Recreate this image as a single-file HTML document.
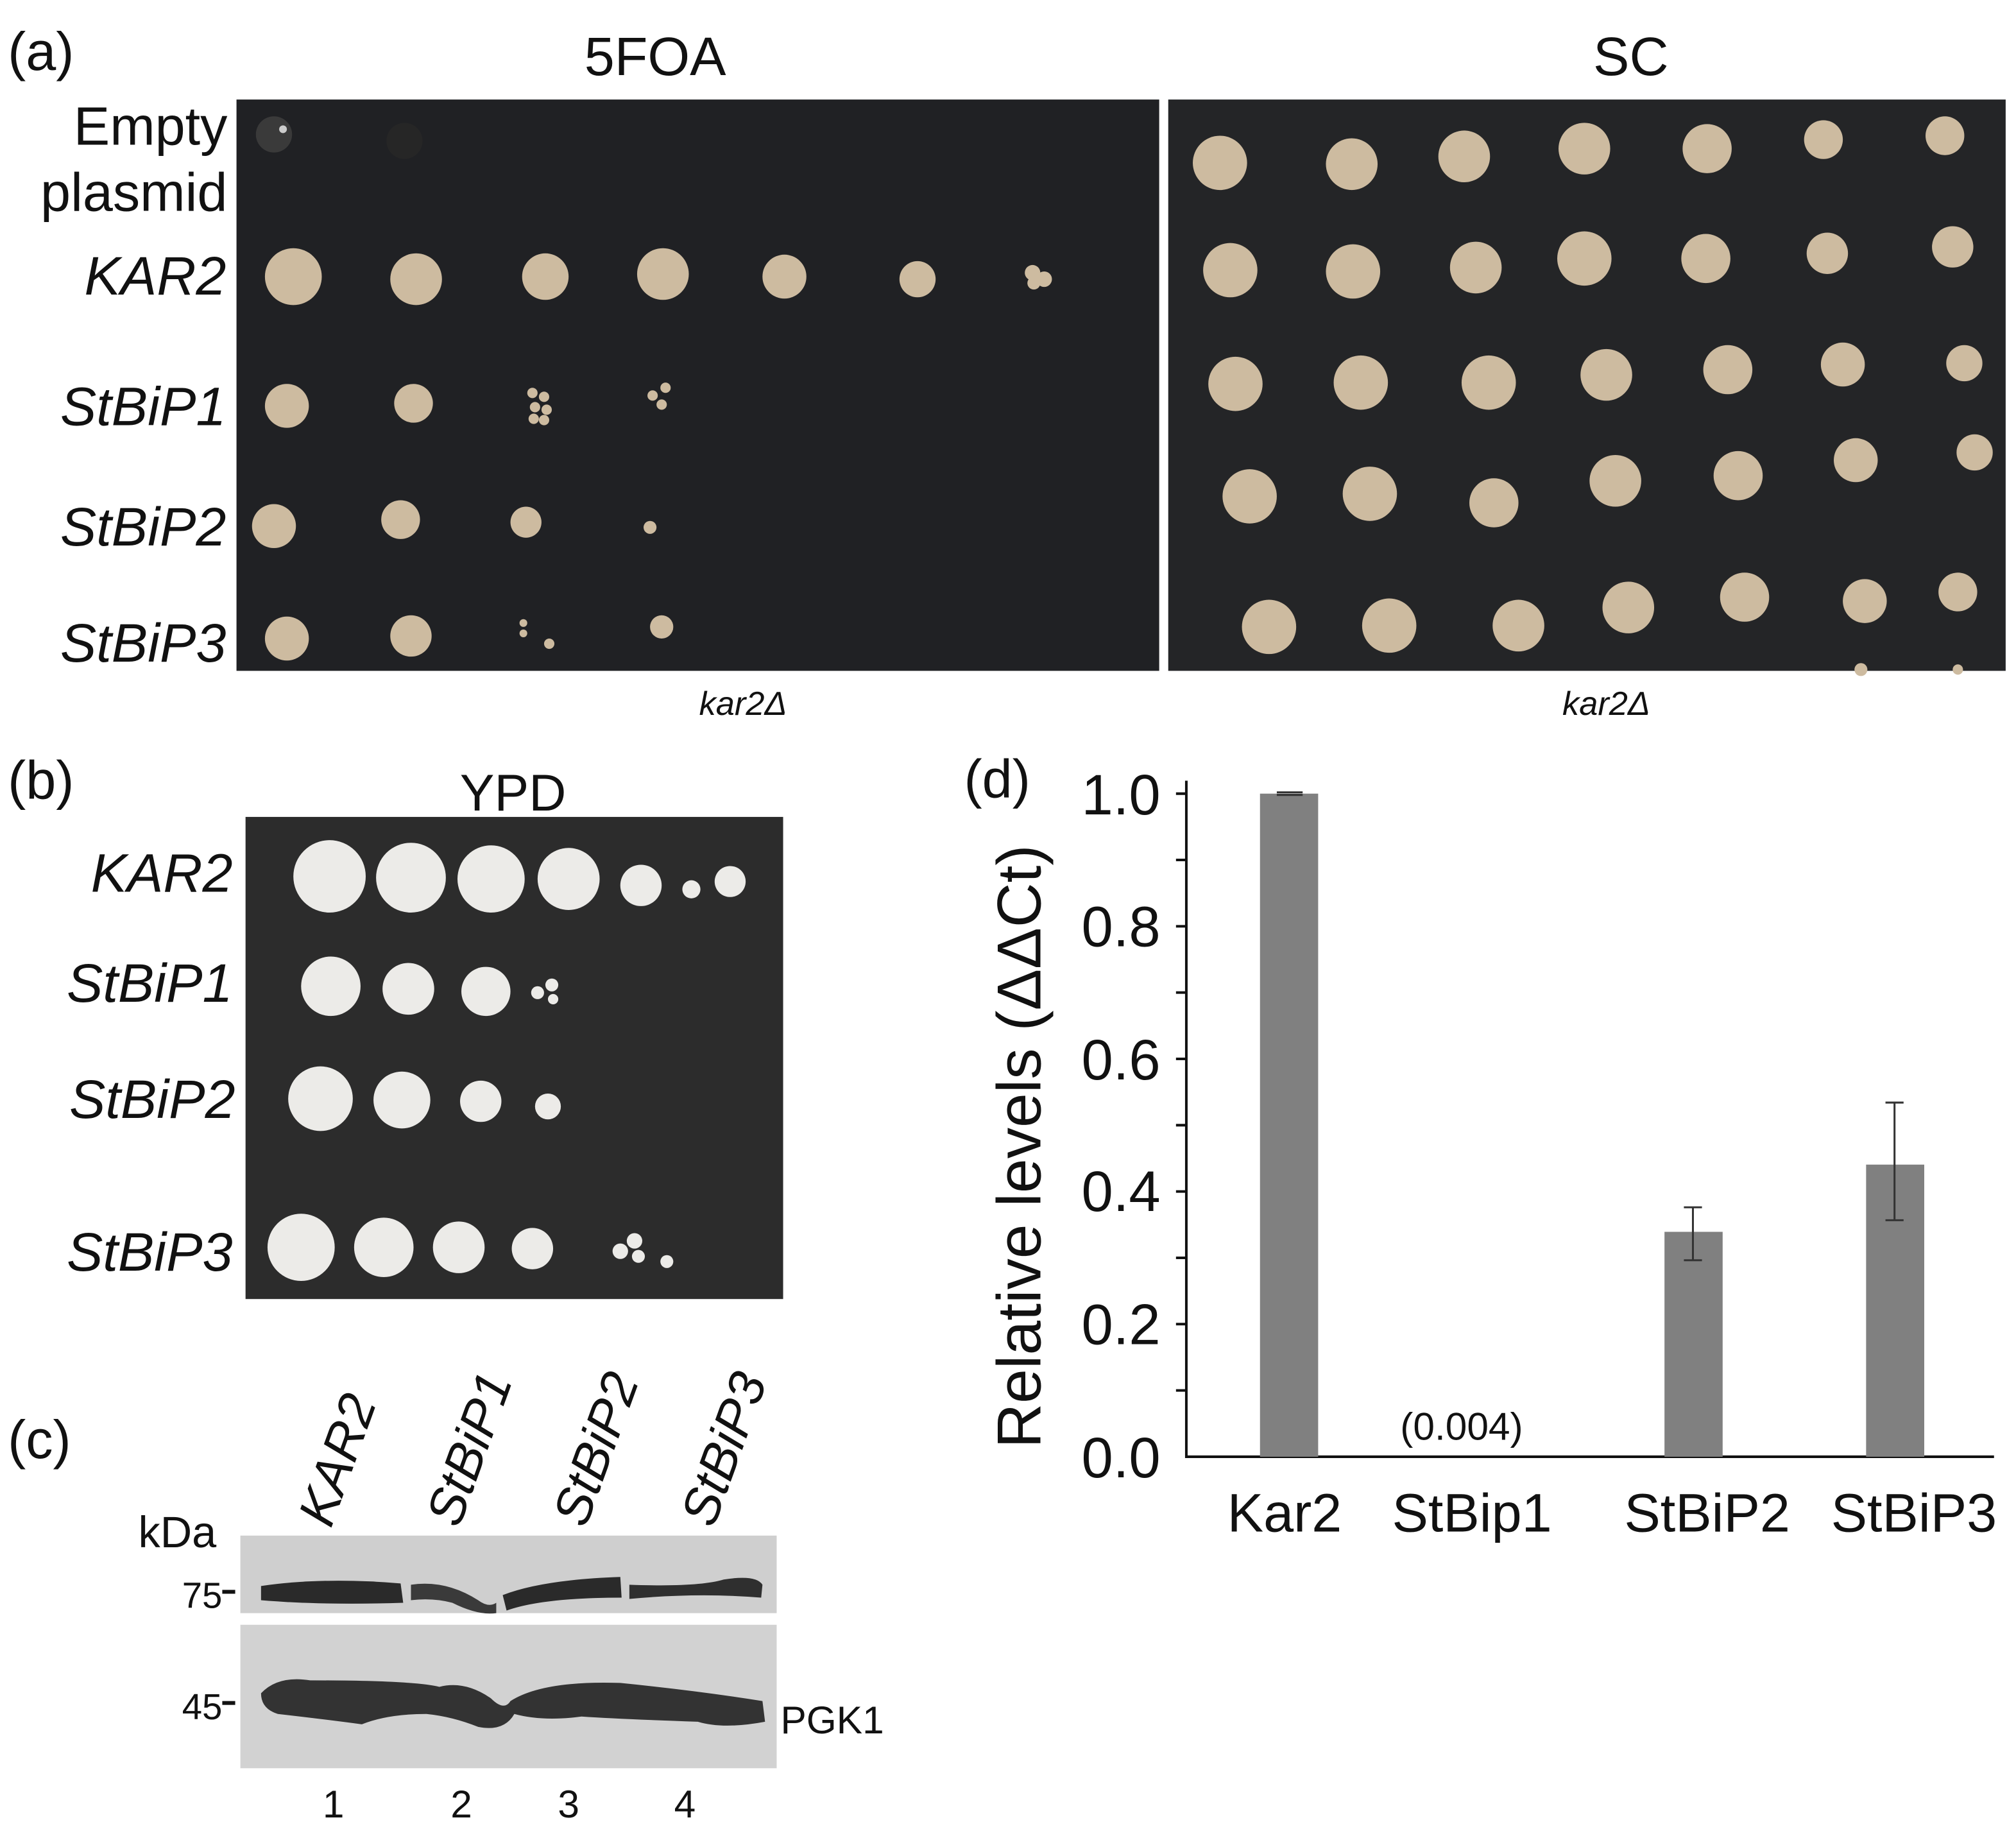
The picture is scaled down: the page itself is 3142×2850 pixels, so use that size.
<!DOCTYPE html>
<html><head><meta charset="utf-8"><style>
html,body{margin:0;padding:0;background:#fff;}
svg{display:block;}
text{font-family:"Liberation Sans",sans-serif;fill:#111;}
.it{font-style:italic;}
</style></head><body>
<svg width="3142" height="2850" viewBox="0 0 1560 1415" preserveAspectRatio="none" xmlns="http://www.w3.org/2000/svg">
<rect width="1560" height="1415" fill="#fff"/>
<!-- (a) -->
<text x="6" y="54" font-size="42">(a)</text>
<text x="507" y="58" font-size="42" text-anchor="middle">5FOA</text>
<text x="1262" y="58" font-size="42" text-anchor="middle">SC</text>
<rect x="183" y="77" width="714" height="442" fill="#202124"/>
<rect x="904" y="77" width="648" height="442" fill="#242527"/>
<circle cx="212" cy="104" r="14" fill="#3a3a3a"/><circle cx="219" cy="100" r="3" fill="#ccc"/>
<circle cx="313" cy="109" r="14" fill="#262626"/>
<g font-size="42" text-anchor="end">
<text x="176" y="112">Empty</text>
<text x="176" y="163">plasmid</text>
<text x="175" y="228" class="it">KAR2</text>
<text x="175" y="329" class="it">StBiP1</text>
<text x="175" y="422" class="it">StBiP2</text>
<text x="175" y="512" class="it">StBiP3</text>
</g>
<g fill="#cdbba0">
<circle cx="227" cy="214" r="22"/><circle cx="322" cy="216" r="20"/><circle cx="422" cy="214" r="18"/><circle cx="513" cy="212" r="20"/><circle cx="607" cy="214" r="17"/><circle cx="710" cy="216" r="14"/><circle cx="799" cy="211" r="6"/><circle cx="808" cy="216" r="6"/><circle cx="800" cy="219" r="5"/>
<circle cx="222" cy="314" r="17"/><circle cx="320" cy="312" r="15"/>
<circle cx="412" cy="304" r="4"/><circle cx="421" cy="307" r="4"/><circle cx="414" cy="315" r="4"/><circle cx="423" cy="317" r="4"/><circle cx="413" cy="324" r="4"/><circle cx="421" cy="325" r="4"/>
<circle cx="505" cy="306" r="4"/><circle cx="515" cy="300" r="4"/><circle cx="512" cy="313" r="4"/>
<circle cx="212" cy="407" r="17"/><circle cx="310" cy="402" r="15"/><circle cx="407" cy="404" r="12"/><circle cx="503" cy="408" r="5"/>
<circle cx="222" cy="494" r="17"/><circle cx="318" cy="492" r="16"/><circle cx="405" cy="482" r="3"/><circle cx="405" cy="490" r="3"/><circle cx="425" cy="498" r="4"/><circle cx="512" cy="485" r="9"/>
<circle cx="944" cy="126" r="21"/><circle cx="1046" cy="127" r="20"/><circle cx="1133" cy="121" r="20"/><circle cx="1226" cy="115" r="20"/><circle cx="1321" cy="115" r="19"/><circle cx="1411" cy="108" r="15"/><circle cx="1505" cy="105" r="15"/>
<circle cx="952" cy="209" r="21"/><circle cx="1047" cy="210" r="21"/><circle cx="1142" cy="207" r="20"/><circle cx="1226" cy="200" r="21"/><circle cx="1320" cy="200" r="19"/><circle cx="1414" cy="196" r="16"/><circle cx="1511" cy="191" r="16"/>
<circle cx="956" cy="297" r="21"/><circle cx="1053" cy="296" r="21"/><circle cx="1152" cy="296" r="21"/><circle cx="1243" cy="290" r="20"/><circle cx="1337" cy="286" r="19"/><circle cx="1426" cy="282" r="17"/><circle cx="1520" cy="281" r="14"/>
<circle cx="967" cy="384" r="21"/><circle cx="1060" cy="382" r="21"/><circle cx="1156" cy="389" r="19"/><circle cx="1250" cy="372" r="20"/><circle cx="1345" cy="368" r="19"/><circle cx="1436" cy="356" r="17"/><circle cx="1528" cy="350" r="14"/>
<circle cx="982" cy="485" r="21"/><circle cx="1075" cy="484" r="21"/><circle cx="1175" cy="484" r="20"/><circle cx="1260" cy="470" r="20"/><circle cx="1350" cy="462" r="19"/><circle cx="1443" cy="465" r="17"/><circle cx="1515" cy="458" r="15"/>
<circle cx="1440" cy="518" r="5"/><circle cx="1515" cy="518" r="4"/>
</g>
<text x="575" y="553" font-size="26" class="it" text-anchor="middle">kar2Δ</text>
<text x="1243" y="553" font-size="26" class="it" text-anchor="middle">kar2Δ</text>
<!-- (b) -->
<text x="6" y="618" font-size="42">(b)</text>
<text x="397" y="627" font-size="40" text-anchor="middle">YPD</text>
<rect x="190" y="632" width="416" height="373" fill="#2c2c2c"/>
<g font-size="42" text-anchor="end" class="it">
<text x="180" y="690">KAR2</text>
<text x="180" y="775">StBiP1</text>
<text x="182" y="865">StBiP2</text>
<text x="180" y="983">StBiP3</text>
</g>
<g fill="#ecebe8">
<circle cx="255" cy="678" r="28"/><circle cx="318" cy="679" r="27"/><circle cx="380" cy="680" r="26"/><circle cx="440" cy="680" r="24"/><circle cx="496" cy="685" r="16"/><circle cx="535" cy="688" r="7"/><circle cx="565" cy="682" r="12"/>
<circle cx="256" cy="763" r="23"/><circle cx="316" cy="765" r="20"/><circle cx="376" cy="767" r="19"/><circle cx="416" cy="768" r="5"/><circle cx="427" cy="762" r="5"/><circle cx="428" cy="773" r="4"/>
<circle cx="248" cy="850" r="25"/><circle cx="311" cy="851" r="22"/><circle cx="372" cy="852" r="16"/><circle cx="424" cy="856" r="10"/>
<circle cx="233" cy="965" r="26"/><circle cx="297" cy="965" r="23"/><circle cx="355" cy="965" r="20"/><circle cx="412" cy="966" r="16"/><circle cx="480" cy="968" r="6"/><circle cx="491" cy="960" r="6"/><circle cx="494" cy="972" r="5"/><circle cx="516" cy="976" r="5"/>
</g>
<!-- (c) -->
<text x="6" y="1128" font-size="42">(c)</text>
<g font-size="40" class="it">
<text transform="translate(256,1183) rotate(-70)">KAR2</text>
<text transform="translate(355,1183) rotate(-70)">StBiP1</text>
<text transform="translate(453,1183) rotate(-70)">StBiP2</text>
<text transform="translate(552,1183) rotate(-70)">StBiP3</text>
</g>
<text x="107" y="1197" font-size="34">kDa</text>
<rect x="186" y="1188" width="415" height="60" fill="#cfcfcf"/>
<path d="M202 1227 Q250 1220 310 1225 L312 1240 Q250 1242 202 1238 Z" fill="#2a2a2a"/>
<path d="M318 1226 Q345 1222 370 1238 Q378 1244 384 1240 L384 1248 Q370 1250 350 1240 Q335 1236 318 1238 Z" fill="#3a3a3a"/>
<path d="M389 1234 Q420 1222 480 1220 L481 1236 Q420 1236 392 1246 Z" fill="#2a2a2a"/>
<path d="M487 1226 Q540 1228 560 1222 Q585 1218 590 1226 L589 1236 Q540 1232 487 1237 Z" fill="#2f2f2f"/>
<rect x="186" y="1257" width="415" height="111" fill="#d2d2d2"/>
<path d="M202 1310 Q215 1296 240 1300 Q320 1300 340 1305 Q360 1300 380 1314 Q390 1324 395 1316 Q420 1300 480 1302 Q540 1308 590 1316 L592 1332 Q560 1338 540 1332 Q480 1330 450 1328 Q420 1332 398 1326 Q390 1340 370 1336 Q350 1328 330 1326 Q300 1326 280 1334 Q250 1330 215 1326 Q202 1322 202 1310 Z" fill="#333"/>
<text x="172" y="1244" font-size="28" text-anchor="end">75</text>
<rect x="172" y="1230" width="10" height="3" fill="#111"/>
<text x="172" y="1330" font-size="28" text-anchor="end">45</text>
<rect x="172" y="1316" width="10" height="3" fill="#111"/>
<text x="604" y="1341" font-size="30">PGK1</text>
<g font-size="30" text-anchor="middle">
<text x="258" y="1406">1</text><text x="357" y="1406">2</text><text x="440" y="1406">3</text><text x="530" y="1406">4</text>
</g>
<!-- (d) -->
<text x="746" y="617" font-size="42">(d)</text>
<g stroke="#111" stroke-width="2" fill="none">
<path d="M918 604 V1127 H1543"/>
<path d="M918 614 h-8 M918 665.3 h-8 M918 716.6 h-8 M918 767.9 h-8 M918 819.2 h-8 M918 870.5 h-8 M918 921.8 h-8 M918 973.1 h-8 M918 1024.4 h-8 M918 1075.7 h-8"/>
</g>
<g font-size="44" text-anchor="end">
<text x="898" y="630">1.0</text><text x="898" y="732">0.8</text><text x="898" y="835">0.6</text><text x="898" y="937">0.4</text><text x="898" y="1040">0.2</text><text x="898" y="1143">0.0</text>
</g>
<text transform="translate(805,887) rotate(-90)" font-size="48" text-anchor="middle">Relative levels (ΔΔCt)</text>
<g fill="#808080">
<rect x="975" y="614" width="45" height="513"/>
<rect x="1288" y="953" width="45" height="174"/>
<rect x="1444" y="901" width="45" height="226"/>
</g>
<g stroke="#333" stroke-width="1.5">
<path d="M988 613 h20 M988 615 h20"/>
<path d="M1310 934 V975 M1303 934 h14 M1303 975 h14"/>
<path d="M1466 853 V944 M1459 853 h14 M1459 944 h14"/>
</g>
<text x="1131" y="1114" font-size="30" text-anchor="middle">(0.004)</text>
<g font-size="42" text-anchor="middle">
<text x="994" y="1185">Kar2</text><text x="1139" y="1185">StBip1</text><text x="1321" y="1185">StBiP2</text><text x="1481" y="1185">StBiP3</text>
</g>
</svg>
</body></html>
